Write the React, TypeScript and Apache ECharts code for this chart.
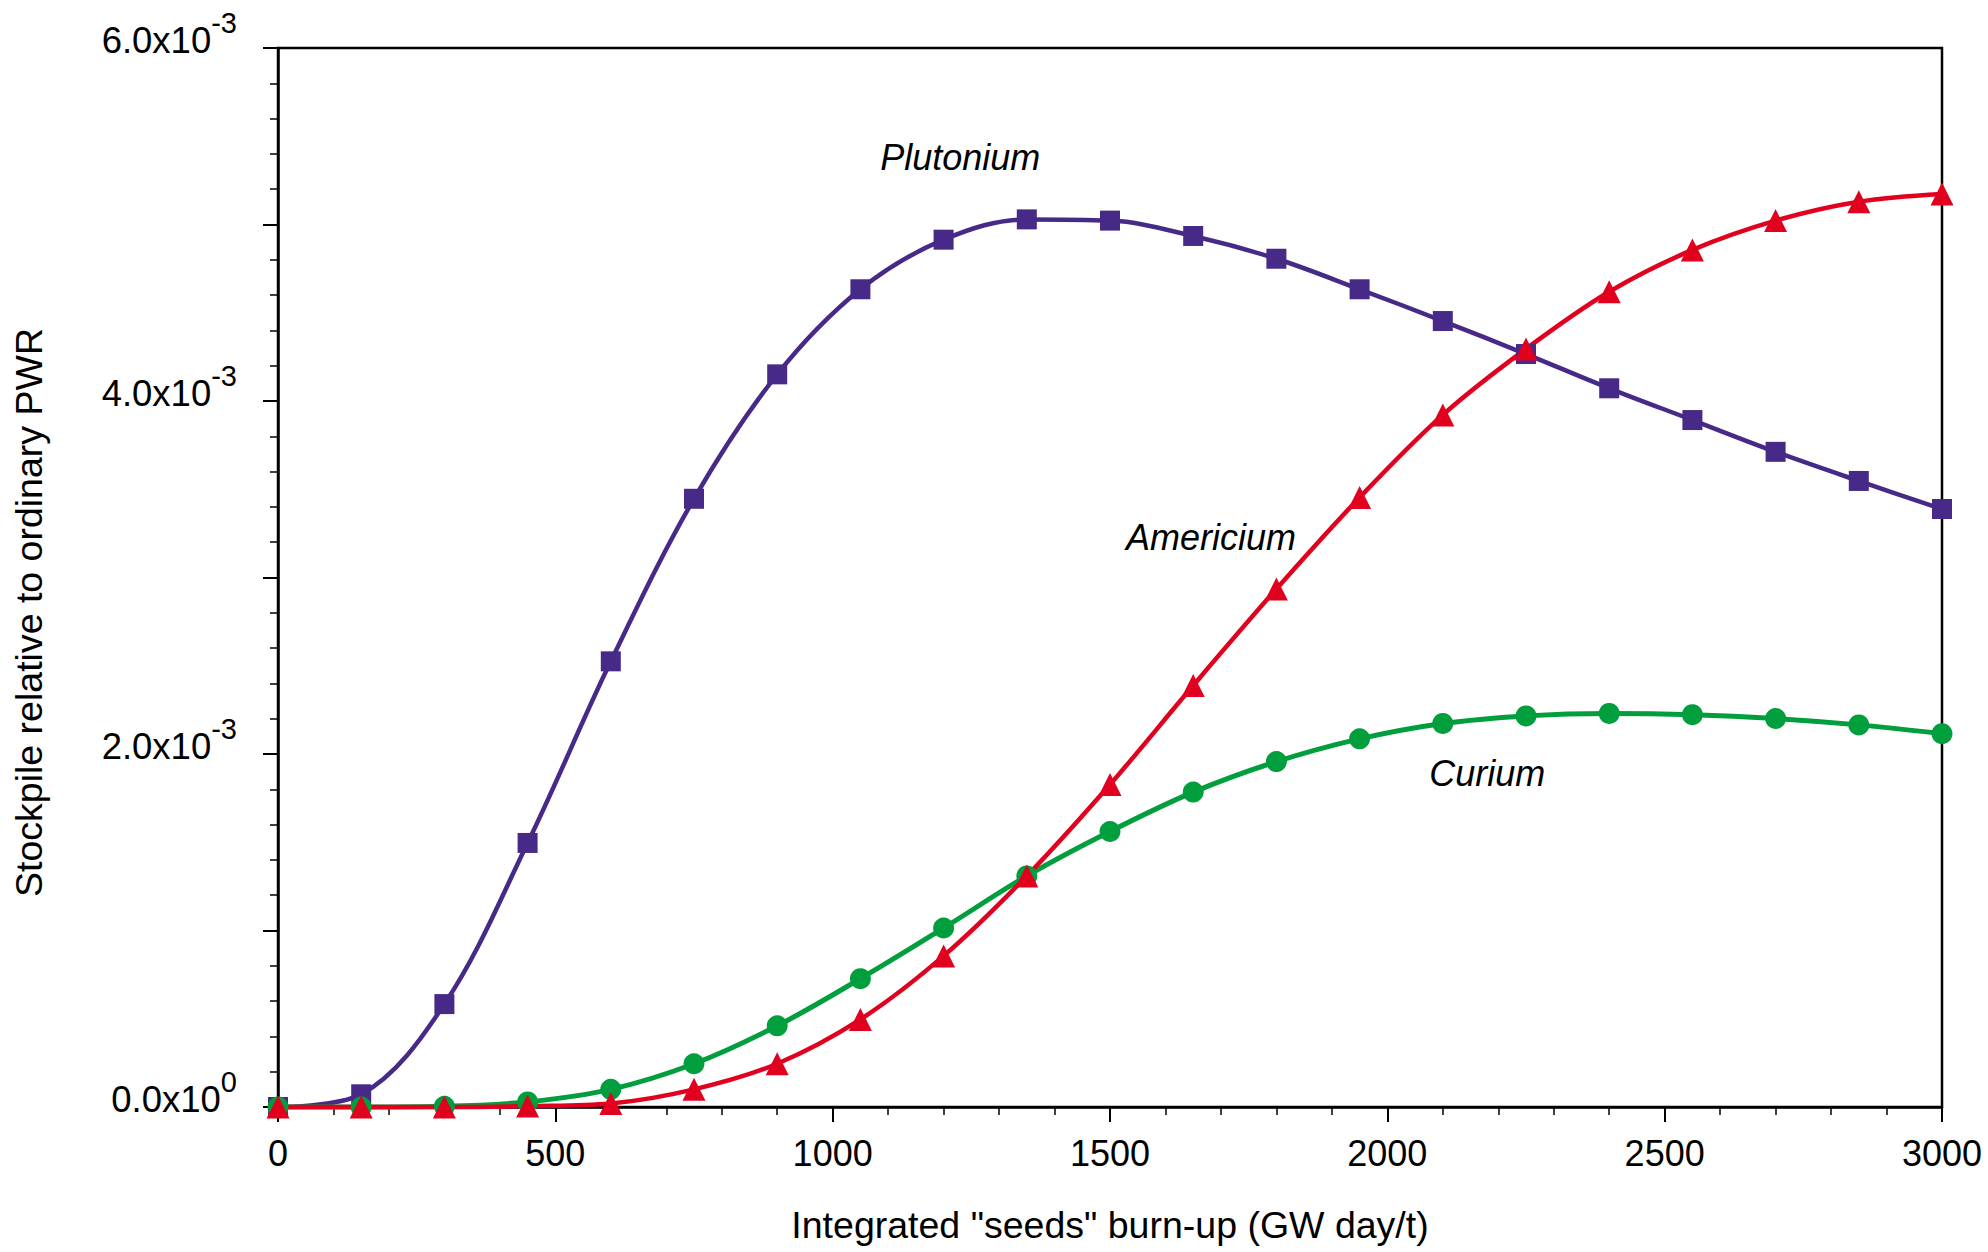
import React, { useEffect, useRef } from 'react';
import * as echarts from 'echarts';

// Integrated "seeds" burn-up (GW day/t)
const burnup = [0, 150, 300, 450, 600, 750, 900, 1050, 1200, 1350, 1500, 1650, 1800, 1950, 2100, 2250, 2400, 2550, 2700, 2850, 3000];

// Stockpile relative to ordinary PWR
const plutonium = [0, 0.072e-3, 0.583e-3, 1.496e-3, 2.525e-3, 3.446e-3, 4.151e-3, 4.633e-3, 4.914e-3, 5.029e-3, 5.022e-3, 4.935e-3, 4.806e-3, 4.633e-3, 4.453e-3, 4.266e-3, 4.072e-3, 3.892e-3, 3.712e-3, 3.547e-3, 3.388e-3];
const americium = [0, 0, 0, 0.005e-3, 0.02e-3, 0.10e-3, 0.245e-3, 0.496e-3, 0.856e-3, 1.309e-3, 1.827e-3, 2.388e-3, 2.935e-3, 3.453e-3, 3.921e-3, 4.295e-3, 4.619e-3, 4.856e-3, 5.022e-3, 5.129e-3, 5.173e-3];
const curium = [0, 0, 0.004e-3, 0.029e-3, 0.10e-3, 0.245e-3, 0.46e-3, 0.727e-3, 1.014e-3, 1.309e-3, 1.561e-3, 1.784e-3, 1.957e-3, 2.086e-3, 2.173e-3, 2.216e-3, 2.23e-3, 2.223e-3, 2.201e-3, 2.165e-3, 2.115e-3];

// Curve annotations (data coordinates)
const annotationNames = ['Plutonium', 'Americium', 'Curium'];
const annotationX = [1230, 1682, 2180];
const annotationY = [5.38e-3, 3.224e-3, 1.892e-3];

const FONT = '"Liberation Sans", Arial, Helvetica, sans-serif';

function pairs(ys: number[]) {
  return burnup.map((x, i) => [x, ys[i]]);
}

export default function App() {
  const ref = useRef<HTMLDivElement>(null);
  useEffect(() => {
    document.body.style.margin = '0';
    if (!ref.current) return;
    const chart = echarts.init(ref.current, null, { renderer: 'svg' });
    const lineBase = (name: string, data: number[], color: string, symbol: string, size: number, width: number) => ({
      name,
      type: 'line',
      data: pairs(data),
      smooth: 0.35,
      clip: false,
      symbol,
      symbolSize: size,
      showAllSymbol: true,
      lineStyle: { color, width },
      itemStyle: { color, borderWidth: 0 },
      emphasis: { disabled: true },
    });
    const option: any = {
      animation: false,
      backgroundColor: '#ffffff',
      grid: {
        left: 278,
        right: 46,
        top: 48,
        bottom: 145,
        show: true,
        borderColor: '#000',
        borderWidth: 2.5,
        backgroundColor: 'transparent',
      },
      xAxis: {
        type: 'value',
        min: 0,
        max: 3000,
        interval: 500,
        axisLine: { show: true, onZero: false, lineStyle: { color: '#000', width: 2.5 } },
        axisTick: { show: true, inside: false, length: 15, lineStyle: { color: '#000', width: 2 } },
        minorTick: { show: true, splitNumber: 5, length: 8, lineStyle: { color: '#000', width: 1.5 } },
        splitLine: { show: false },
        minorSplitLine: { show: false },
        axisLabel: { fontSize: 36, color: '#000', fontFamily: FONT, margin: 28, formatter: (v: number) => String(v) },
        name: 'Integrated "seeds" burn-up (GW day/t)',
        nameLocation: 'middle',
        nameGap: 99,
        nameTextStyle: { fontSize: 37.5, color: '#000', fontFamily: FONT },
      },
      yAxis: {
        type: 'value',
        min: 0,
        max: 0.006,
        interval: 0.001,
        axisLine: { show: true, onZero: false, lineStyle: { color: '#000', width: 2.5 } },
        axisTick: { show: true, inside: false, length: 15, lineStyle: { color: '#000', width: 2 } },
        minorTick: { show: true, splitNumber: 5, length: 8, lineStyle: { color: '#000', width: 1.5 } },
        splitLine: { show: false },
        minorSplitLine: { show: false },
        axisLabel: {
          margin: 41,
          padding: [0, 0, 43, 0],
          formatter: (v: number) => {
            const m = Math.round(v * 10000) / 10;
            if (Math.round(m) % 2 !== 0) return '';
            const exp = m === 0 ? '0' : '-3';
            return `{b|${m.toFixed(1)}x10}{s|${exp}}`;
          },
          rich: {
            b: { fontSize: 36.5, lineHeight: 36, color: '#000', fontFamily: FONT, padding: [13, 0, 0, 0], verticalAlign: 'top' },
            s: { fontSize: 29, lineHeight: 27, color: '#000', fontFamily: FONT, verticalAlign: 'top' },
          },
        },
        name: 'Stockpile relative to ordinary PWR',
        nameLocation: 'middle',
        nameRotate: 90,
        nameGap: 230,
        nameTextStyle: { fontSize: 37.5, color: '#000', fontFamily: FONT, padding: [0, 70, 0, 0] },
      },
      series: [
        {
          ...lineBase('Plutonium', plutonium, '#472a88', 'rect', 20, 4.5),
          markPoint: {
            symbol: 'circle',
            symbolSize: 0,
            silent: true,
            label: {
              show: true,
              position: 'inside',
              color: '#000',
              fontSize: 36,
              fontStyle: 'italic',
              fontFamily: FONT,
              formatter: (p: any) => p.name,
            },
            data: annotationNames.map((n, i) => ({ name: n, coord: [annotationX[i], annotationY[i]] })),
          },
        },
        lineBase('Curium', curium, '#009e3d', 'circle', 21, 5),
        lineBase('Americium', americium, '#e2001f', 'triangle', 23, 4.5),
      ],
    };
    chart.setOption(option);
    return () => chart.dispose();
  }, []);
  return <div ref={ref} style={{ width: 1988, height: 1252 }} />;
}
